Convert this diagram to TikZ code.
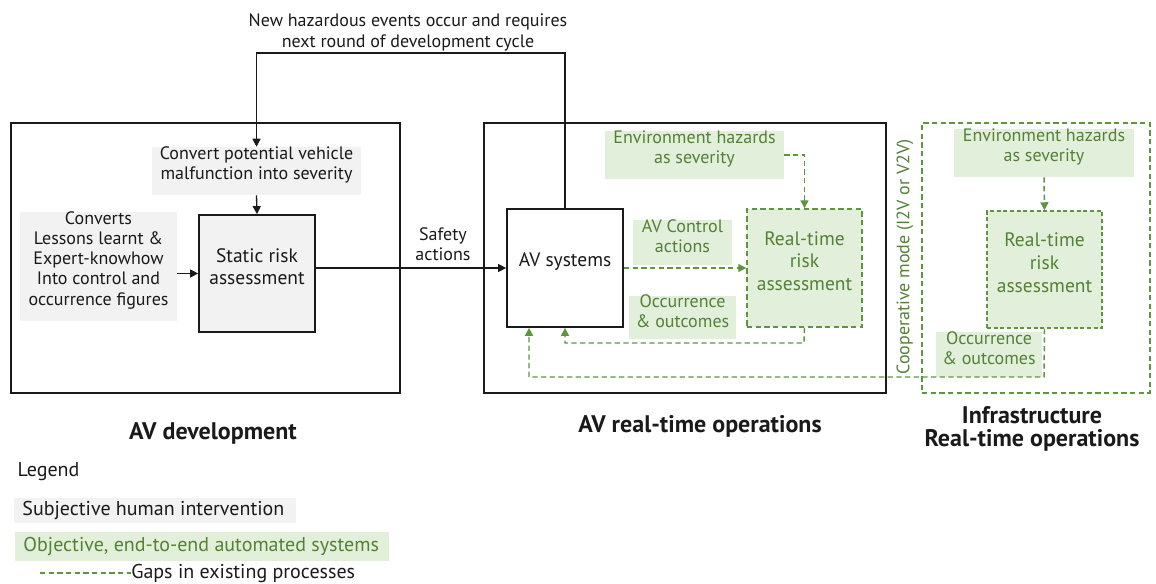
\documentclass[tikz,border=0pt]{standalone}
\usepackage{fontspec}
\setmainfont{PT Sans}
\usetikzlibrary{arrows.meta,fit}
\definecolor{gtext}{HTML}{538135}
\definecolor{gline}{HTML}{5E9640}
\definecolor{gfill}{HTML}{E2EFDA}
\definecolor{grayfill}{HTML}{F2F2F2}
\definecolor{ink}{HTML}{1A1A1A}

\begin{document}
\begin{tikzpicture}[x=0.75pt,y=-0.75pt,
  font=\fontsize{13.5}{15.2}\selectfont, text=ink,
  frame/.style={draw=ink, line width=1.3pt, inner sep=0pt},
  gframe/.style={draw=gline, line width=1.1pt, dash pattern=on 4pt off 2.5pt, inner sep=0pt},
  greybox/.style={fill=grayfill, inner sep=0pt, align=center, text=ink},
  greenbox/.style={fill=gfill, inner sep=0pt, align=center, text=gtext},
  mainbox/.style={inner sep=0pt, align=center, line width=1.3pt,
    font=\fontsize{14.6}{17}\selectfont},
  title/.style={font=\fontsize{18}{17.5}\selectfont\bfseries, align=center, text=ink},
  legendtext/.style={font=\fontsize{15}{17}\selectfont},
  conn/.style={draw=ink, line width=1pt, -{Triangle[length=6pt,width=6pt]}},
  gconn/.style={draw=gline, line width=1.1pt, dash pattern=on 4pt off 2.5pt,
    -{Triangle[length=6pt,width=6pt]}},
  gplain/.style={draw=gline, line width=1.1pt, dash pattern=on 4pt off 2.5pt},
]
\useasboundingbox (0,0) rectangle (1156,584);

% ---------- outer frames ----------
\node[frame, fit={(11,123)(400,393)}] (devframe) {};
\node[frame, fit={(484,123)(886,393)}] (opsframe) {};
\node[gframe, fit={(922,123)(1150,393)}] (infraframe) {};

% ---------- AV development ----------
\node[greybox, fit={(152,147)(361,195)}] (conv) {Convert potential vehicle\\malfunction into severity};
\node[greybox, fit={(20,212)(177,321)}] (lessons) {Converts\\Lessons learnt \&\\Expert-knowhow\\Into control and\\occurrence figures};
\node[mainbox, draw=ink, fill=grayfill, fit={(199,215)(315,332)}] (static) {Static risk\\assessment};

% ---------- AV real-time operations ----------
\node[mainbox, draw=ink, fill=white, fit={(507,209)(623,327)}] (av) {AV systems};
\node[greenbox, fit={(605,131)(784,179)}] (env) {Environment hazards\\as severity};
\node[greenbox, fit={(633,220)(732,265)}] (ctrl) {AV Control\\actions};
\node[greenbox, fit={(629,296)(736,339)}] (occ) {Occurrence\\\& outcomes};
\node[mainbox, gframe, fill=gfill, text=gtext, fit={(747,209)(862,327)},
  font=\fontsize{14.6}{17}\selectfont] (rt) {Real-time\\risk\\assessment};

% ---------- Infrastructure ----------
\node[greenbox, fit={(954,129)(1134,177)}] (env2) {Environment hazards\\as severity};
\node[mainbox, draw=gline, line width=1.1pt, dash pattern=on 3pt off 2pt, fill=gfill,
  text=gtext, fit={(987,211)(1102,328)}, font=\fontsize{14.6}{17}\selectfont] (rt2) {Real-time\\risk\\assessment};
\node[greenbox, fit={(936,332)(1042,377)}] (occ2) {Occurrence\\\& outcomes};
\node[text=gtext, rotate=90] (coop) at (905,257) {Cooperative mode (I2V or V2V)};

% ---------- labels ----------
\node[align=center, font=\fontsize{13.5}{15.7}\selectfont] (newhaz) at (408,32) {New hazardous events occur and requires\\next round of development cycle};
\node[align=center] (safety) at (443,244) {Safety\\actions};
\node[title] (t1) at (213,433) {AV development};
\node[title] (t2) at (700,426) {AV real-time operations};
\node[title] (t3) at (1032,429) {Infrastructure\\Real-time operations};

% ---------- connectors ----------
\coordinate (loopR) at (565,53);
\draw[conn] (av.north) -- (loopR) -| (conv.north);
\draw[conn] (conv.south) -- (static.north);
\draw[conn] (lessons.east |- static.west) -- (static.west);
\draw[conn] (static.east |- av.west) -- (av.west);

\draw[gconn] (av.east) -- (rt.west);
\draw[gconn] (env.east) -| (rt.north);
\coordinate (occTurn) at (804,343);
\draw[gconn] (rt.south) -- (occTurn) -| (av.south);

\draw[gconn] (env2.south) -- (rt2.north);
\coordinate (coopTurn) at (1044,377);
\coordinate (coopLeft) at (529,377);
\draw[gconn] (rt2.south) -- (coopTurn) -- (coopLeft) -- (coopLeft |- av.south);

% ---------- legend ----------
\node[anchor=west, legendtext] (legend) at (13,472) {Legend};
\node[greybox, fit={(14,498)(296,523)}] (leg1) {};
\node[anchor=west, legendtext] at (leg1.west) {\hspace{3pt}Subjective human intervention};
\node[greenbox, fit={(15,532)(389,561)}] (leg2) {};
\node[anchor=west, legendtext, text=gtext] at (leg2.west) {\hspace{3pt}Objective, end-to-end automated systems};
\coordinate (legA) at (40,573);
\node[anchor=west, inner sep=0pt, legendtext] (leg3) at (131,573) {Gaps in existing processes};
\draw[gplain] (legA) -- (leg3.west);
\end{tikzpicture}
\end{document}
